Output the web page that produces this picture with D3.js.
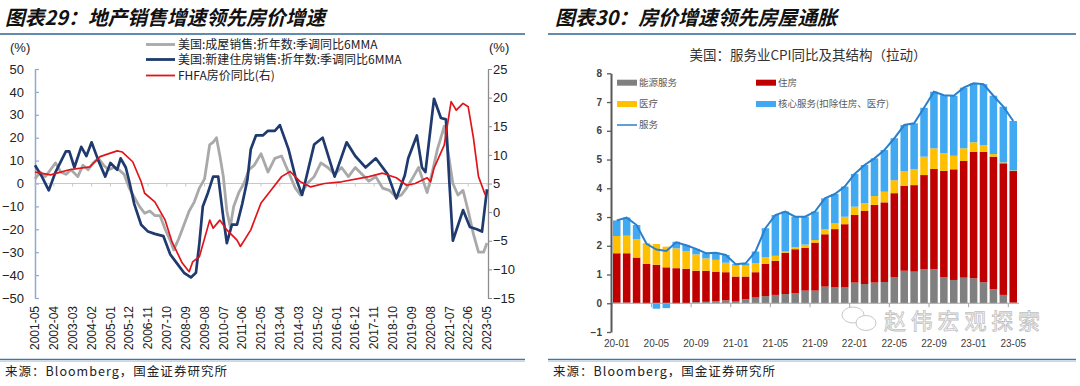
<!DOCTYPE html>
<html><head><meta charset="utf-8">
<script src="https://cdn.jsdelivr.net/npm/d3@7"></script>
<style>body{margin:0;background:#fff}svg{display:block}</style>
</head><body>
<svg id="c" width="1080" height="386"></svg>
<script>
// ---------------- LEFT CHART DATA ----------------
const xTickLabels = ["2001-05","2002-04","2003-03","2004-02","2005-01","2005-12","2006-11","2007-10","2008-09","2009-08","2010-07","2011-06","2012-05","2013-04","2014-03","2015-02","2016-01","2016-12","2017-11","2018-10","2019-09","2020-08","2021-07","2022-06","2023-05"];
const leftTicks = [50,40,30,20,10,0,-10,-20,-30,-40,-50];
const rightTicks = [25,20,15,10,5,0,-5,-10,-15];

const grayDates = ["2001-05","2001-08","2001-11","2002-02","2002-05","2002-08","2002-11","2003-02","2003-06","2003-09","2003-12","2004-03","2004-06","2004-09","2004-12","2005-03","2005-06","2005-09","2005-12","2006-03","2006-06","2006-09","2006-12","2007-03","2007-06","2007-09","2007-12","2008-02","2008-05","2008-08","2008-11","2009-02","2009-05","2009-08","2009-11","2010-01","2010-03","2010-05","2010-07","2010-09","2010-11","2011-01","2011-04","2011-07","2011-10","2012-01","2012-05","2012-09","2013-01","2013-05","2013-09","2014-01","2014-04","2014-08","2014-12","2015-04","2015-08","2015-12","2016-04","2016-08","2016-12","2017-04","2017-08","2017-12","2018-04","2018-08","2018-12","2019-03","2019-06","2019-10","2020-01","2020-06","2020-09","2020-12","2021-02","2021-04","2021-06","2021-09","2021-12","2022-03","2022-06","2022-09","2022-12","2023-03","2023-05"];
const grayVals = [2,5,3,6,9,5,4,6,3,8,6,9,11,8,6,7,6,4,-2,-6,-10,-13,-12,-14,-14,-20,-25,-29,-24,-18,-12,-8,-2,2,17,18,20,12,3,-12,-19,-10,-4,0,6,8,13,5,11,12,5,-2,-5,0,3,9,7,4,7,3,7,4,1,3,-2,-3,-6,-5,-2,3,7,-4,5,15,20,25,15,0,-5,-3,-12,-22,-30,-30,-26];

const navyDates = ["2001-05","2001-09","2002-01","2002-05","2002-11","2003-01","2003-04","2003-08","2003-11","2004-02","2004-06","2004-10","2005-01","2005-05","2005-07","2005-10","2005-12","2006-03","2006-07","2006-11","2007-03","2007-08","2007-12","2008-04","2008-08","2008-12","2009-03","2009-05","2009-07","2009-10","2010-01","2010-04","2010-07","2010-09","2010-12","2011-03","2011-06","2011-09","2011-11","2012-02","2012-06","2012-09","2013-01","2013-04","2013-09","2014-01","2014-05","2014-12","2015-05","2015-12","2016-07","2016-12","2017-06","2017-12","2018-07","2018-12","2019-05","2019-07","2019-12","2020-03","2020-05","2020-10","2021-02","2021-05","2021-07","2021-09","2022-03","2022-07","2022-11","2023-02","2023-05"];
const navyVals = [8,3,-3,5,14,14,7,16,12,18,10,3,9,6,11,7,1,-9,-18,-21,-22,-23,-31,-35,-39,-41,-39,-26,-10,-4,3,3,-15,-26,-18,-18,-9,1.5,15,21,21,23,23,25.5,15,3,-5,17,20,3,18,12,7,11,4,-6.5,3.6,11,21,7,5,37,28.6,28,0.6,-25,-11.6,-19,-20,-21,-2.5];

const redDates = ["2001-05","2002-02","2003-01","2004-01","2004-07","2005-01","2005-05","2005-08","2006-02","2006-07","2006-09","2007-03","2007-09","2008-01","2008-07","2008-11","2009-01","2009-05","2009-11","2010-01","2010-05","2010-09","2011-03","2011-05","2011-11","2012-05","2012-11","2013-05","2013-10","2014-04","2014-10","2015-06","2016-04","2017-08","2018-04","2018-12","2019-06","2019-11","2020-06","2020-08","2020-10","2021-04","2021-08","2021-11","2022-03","2022-06","2022-09","2022-12","2023-04"];
const redVals = [7,6.5,7.4,7.9,9.7,10.3,10.7,10.5,8.8,5.3,3.3,1.8,-1.4,-5.2,-8.9,-10.4,-8.7,-7.8,-1.4,-2.8,-1.4,-3.1,-4.9,-6,-3.1,1.6,3.9,6.2,7.1,5.3,4.4,5,5.3,6.2,6.8,6,4.7,5,6,5.3,7.7,11.7,19.3,17.8,19,18.4,13,6.2,3];

// ---------------- RIGHT CHART DATA ----------------
const months = ["20-01","20-02","20-03","20-04","20-05","20-06","20-07","20-08","20-09","20-10","20-11","20-12","21-01","21-02","21-03","21-04","21-05","21-06","21-07","21-08","21-09","21-10","21-11","21-12","22-01","22-02","22-03","22-04","22-05","22-06","22-07","22-08","22-09","22-10","22-11","22-12","23-01","23-02","23-03","23-04","23-05"];
const energy  = [0.02,0.02,0.00,-0.02,-0.02,-0.02,-0.02,-0.01,0.04,0.05,0.07,0.10,0.06,0.14,0.20,0.25,0.29,0.32,0.35,0.44,0.44,0.58,0.55,0.55,0.72,0.67,0.72,0.74,0.90,1.13,1.10,1.18,1.18,0.90,0.81,0.89,0.87,0.73,0.49,0.29,0.02];
const housing = [1.72,1.72,1.59,1.37,1.34,1.25,1.22,1.20,1.09,1.08,1.03,0.98,0.87,0.79,0.88,1.12,1.19,1.44,1.53,1.49,1.67,1.82,2.03,2.20,2.35,2.54,2.70,2.77,2.93,2.96,3.01,3.28,3.49,3.71,3.85,4.06,4.40,4.54,4.61,4.58,4.58];
const medical = [0.60,0.61,0.64,0.72,0.72,0.72,0.69,0.62,0.57,0.43,0.41,0.33,0.38,0.38,0.31,0.23,0.17,0.04,0.07,0.11,0.09,0.17,0.20,0.26,0.29,0.27,0.31,0.37,0.45,0.51,0.56,0.64,0.72,0.61,0.47,0.44,0.33,0.23,0.09,0.03,0.02];
const core    = [0.54,0.63,0.49,0.00,-0.17,-0.15,0.23,0.21,0.19,0.18,0.25,0.27,0.05,0.08,0.41,1.01,1.42,1.39,1.06,0.97,0.99,1.08,1.02,1.05,1.14,1.33,1.31,1.45,1.46,1.60,1.59,1.70,1.97,2.02,2.09,2.11,2.05,2.12,2.03,1.94,1.72];
const services = [2.88,2.98,2.72,2.07,1.87,1.82,2.12,2.02,1.89,1.74,1.76,1.68,1.36,1.39,1.80,2.61,3.07,3.19,3.01,3.01,3.19,3.65,3.80,4.06,4.50,4.81,5.04,5.33,5.74,6.20,6.26,6.80,7.36,7.24,7.22,7.50,7.65,7.62,7.22,6.84,6.34];
const rightYTicks = [-1,0,1,2,3,4,5,6,7,8];

// ---------------- DRAW ----------------
const svg = d3.select("#c");
const CJK = "'Noto Sans CJK SC','Noto Sans',sans-serif";
const LAT = "'Liberation Sans',Arial,sans-serif";

function title(x, txt, len){
  svg.append("text").attr("x",x).attr("y",25).text(txt)
    .attr("font-family",CJK).attr("font-size",20).attr("font-weight",700)
    .attr("font-style","italic").attr("fill","#111")
    .attr("textLength",len).attr("lengthAdjust","spacingAndGlyphs");
}
title(5,"图表29：地产销售增速领先房价增速",320);
title(555,"图表30：房价增速领先房屋通胀",282);
[[0,525],[548,1076]].forEach(([a,b])=>{
  svg.append("line").attr("x1",a).attr("x2",b).attr("y1",34).attr("y2",34).attr("stroke","#2f6590").attr("stroke-width",1.6);
  svg.append("line").attr("x1",a).attr("x2",b).attr("y1",359.5).attr("y2",359.5).attr("stroke","#3e78a8").attr("stroke-width",1.3);
  svg.append("line").attr("x1",a).attr("x2",b).attr("y1",361.5).attr("y2",361.5).attr("stroke","#c5d9ec").attr("stroke-width",1);
});
function source(x){
  svg.append("text").attr("x",x).attr("y",376).text("来源：Bloomberg，国金证券研究所")
    .attr("font-family",CJK).attr("font-size",12.5).attr("fill","#222")
    .attr("textLength",222).attr("lengthAdjust","spacing");
}
source(5); source(553);

// ===== left chart =====
const parse = d3.timeParse("%Y-%m");
const xL = d3.scaleTime().domain([parse("2001-05"),parse("2023-05")]).range([35,487]);
const yL = d3.scaleLinear().domain([-50,50]).range([298,69]);
const yR = d3.scaleLinear().domain([-15,25]).range([298,69]);

svg.append("line").attr("x1",35).attr("x2",488).attr("y1",yL(0)).attr("y2",yL(0)).attr("stroke","#c8c8c8").attr("stroke-width",1.2);

const gL = svg.append("g").attr("transform","translate(35,0)")
  .call(d3.axisLeft(yL).tickValues(leftTicks).tickSizeInner(-4).tickSizeOuter(0).tickPadding(11));
gL.select(".domain").attr("stroke","#8fa9d1").attr("stroke-width",1.5);
gL.selectAll(".tick line").attr("stroke","#8fa9d1").attr("stroke-width",1.2);
gL.selectAll(".tick text").attr("font-family",LAT).attr("font-size",13).attr("fill","#222");

const gR = svg.append("g").attr("transform","translate(488,0)")
  .call(d3.axisRight(yR).tickValues(rightTicks).tickSizeInner(4).tickSizeOuter(0).tickPadding(1));
gR.select(".domain").attr("stroke","#8c8c8c").attr("stroke-width",1.3);
gR.selectAll(".tick line").attr("stroke","#8c8c8c");
gR.selectAll(".tick text").attr("font-family",LAT).attr("font-size",13).attr("fill","#222");

svg.append("text").attr("x",10).attr("y",52).text("(%)").attr("font-family",LAT).attr("font-size",13).attr("fill","#222");
svg.append("text").attr("x",489).attr("y",52).text("(%)").attr("font-family",LAT).attr("font-size",13).attr("fill","#222");

xTickLabels.forEach(s=>{
  const x = xL(parse(s));
  svg.append("line").attr("x1",x).attr("x2",x).attr("y1",yL(0)).attr("y2",yL(0)+3).attr("stroke","#c8c8c8");
  svg.append("text").attr("transform",`translate(${x},306) rotate(-90)`).attr("dy","0.35em")
    .attr("text-anchor","end").text(s).attr("font-family",LAT).attr("font-size",12).attr("fill","#222");
});

function series(dates, vals, scale, color, w){
  const pts = dates.map((d,i)=>[xL(parse(d)), scale(vals[i])]);
  svg.append("path").attr("d",d3.line()(pts)).attr("fill","none").attr("stroke",color)
    .attr("stroke-width",w).attr("stroke-linejoin","round");
}
series(grayDates, grayVals, yL, "#a9a9a9", 2.8);
series(navyDates, navyVals, yL, "#1f3a6e", 2.7);
series(redDates, redVals, yR, "#e0151b", 1.7);

const legL = [["美国:成屋销售:折年数:季调同比6MMA","#a9a9a9",2.8,44.5],["美国:新建住房销售:折年数:季调同比6MMA","#1f3a6e",2.8,59.5],["FHFA房价同比(右)","#e0151b",1.8,75.5]];
legL.forEach(([t,c,w,y])=>{
  svg.append("line").attr("x1",146).attr("x2",175).attr("y1",y).attr("y2",y).attr("stroke",c).attr("stroke-width",w);
  svg.append("text").attr("x",178).attr("y",y).attr("dy","0.35em").text(t).attr("font-family",CJK).attr("font-size",12).attr("fill","#222");
});

// ===== right chart =====
const xB = d3.scaleBand().domain(months).range([612,1018]).paddingInner(0.24).paddingOuter(0.1);
const yB = d3.scaleLinear().domain([-1,8]).range([332,73.3]);
const rows = months.map((m,i)=>({m, energy:energy[i], housing:housing[i], medical:medical[i], core:core[i]}));
const keys = ["energy","housing","medical","core"];
const colors = {energy:"#808080", housing:"#c00000", medical:"#ffc000", core:"#41a8f2"};
const stack = d3.stack().keys(keys).offset(d3.stackOffsetDiverging)(rows);
stack.forEach(layer=>{
  svg.append("g").selectAll("rect").data(layer).join("rect")
    .attr("x",d=>xB(d.data.m)).attr("width",xB.bandwidth())
    .attr("y",d=>yB(Math.max(d[0],d[1]))).attr("height",d=>Math.abs(yB(d[0])-yB(d[1])))
    .attr("fill",colors[layer.key]);
});
svg.append("line").attr("x1",611).attr("x2",1019).attr("y1",yB(0)).attr("y2",yB(0)).attr("stroke","#a6a6a6").attr("stroke-width",1.2);
const step = xB.step();
months.forEach((m,i)=>{
  if(i%4===0){
    const xt = xB(m) - step*0.12;
    svg.append("line").attr("x1",xt).attr("x2",xt).attr("y1",yB(0)).attr("y2",yB(0)+4).attr("stroke","#a6a6a6");
    svg.append("text").attr("x",xB(m)+xB.bandwidth()/2).attr("y",347).attr("text-anchor","middle")
      .text(m).attr("font-family",LAT).attr("font-size",10).attr("fill","#404040");
  }
});
svg.append("path").attr("d",d3.line()(months.map((m,i)=>[xB(m)+xB.bandwidth()/2, yB(services[i])])))
  .attr("fill","none").attr("stroke","#2a80cc").attr("stroke-width",2);
const gB = svg.append("g").attr("transform","translate(611,0)")
  .call(d3.axisLeft(yB).tickValues(rightYTicks).tickSizeInner(4).tickSizeOuter(0).tickPadding(5).tickFormat(d3.format("d")));
gB.select(".domain").attr("stroke","#595959").attr("stroke-width",2);
gB.selectAll(".tick line").attr("stroke","#595959").attr("stroke-width",1.3);
gB.selectAll(".tick text").attr("font-family",LAT).attr("font-size",10).attr("font-weight",700).attr("fill","#404040");

svg.append("text").attr("x",808).attr("y",55).attr("dy","0.35em").attr("text-anchor","middle")
  .text("美国：服务业CPI同比及其结构（拉动）").attr("font-family",CJK).attr("font-size",13.5).attr("fill","#333");

const legR = [["能源服务","#808080",617,82.7,"rect"],["住房","#c00000",756,82.7,"rect"],["医疗","#ffc000",617,104,"rect"],["核心服务(扣除住房、医疗)","#41a8f2",756,104,"rect"],["服务","#2a80cc",617,125,"line"]];
legR.forEach(([t,c,x,y,k])=>{
  if(k==="rect") svg.append("rect").attr("x",x).attr("y",y-3).attr("width",20).attr("height",6).attr("fill",c);
  else svg.append("line").attr("x1",x).attr("x2",x+20).attr("y1",y).attr("y2",y).attr("stroke",c).attr("stroke-width",1.5);
  svg.append("text").attr("x",x+22).attr("y",y).attr("dy","0.35em").text(t).attr("font-family",CJK).attr("font-size",9.5).attr("fill","#595959");
});

// watermark (kept just above the x labels so it does not cover them)
const wm = svg.append("g").attr("opacity",0.55);
wm.append("ellipse").attr("cx",853).attr("cy",315).attr("rx",11).attr("ry",8).attr("fill","#fff").attr("stroke","#9a9a9a").attr("stroke-width",1);
wm.append("ellipse").attr("cx",866).attr("cy",323).attr("rx",10).attr("ry",7.5).attr("fill","#fff").attr("stroke","#9a9a9a").attr("stroke-width",1);
wm.append("text").attr("x",884).attr("y",329).text("赵伟宏观探索").attr("font-family",CJK).attr("font-size",22)
  .attr("fill","none").attr("stroke","#8a8a8a").attr("stroke-width",0.8).attr("textLength",156);
</script>
</body></html>
